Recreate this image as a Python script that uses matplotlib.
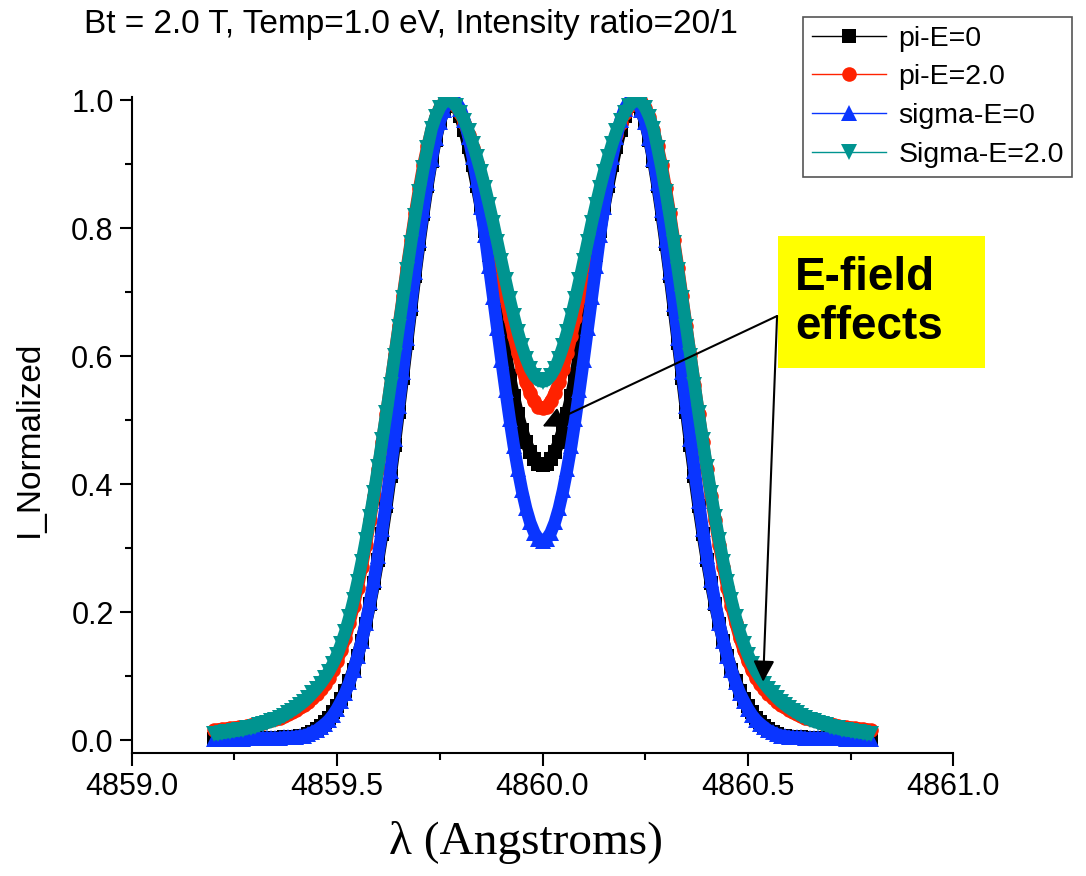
import numpy as np
import matplotlib
matplotlib.use("Agg")
import matplotlib.pyplot as plt
from matplotlib.lines import Line2D
from matplotlib.patches import Rectangle

# wavelength sampling of the spectra (Angstroms)
wl_start = 4859.20
wl_step = 0.01

pi_e0 = [
    0.002, 0.002, 0.002, 0.002, 0.002, 0.002, 0.002, 0.002, 0.003, 0.003,
    0.003, 0.003, 0.003, 0.003, 0.003, 0.003, 0.003, 0.004, 0.004, 0.004,
    0.005, 0.006, 0.007, 0.010, 0.013, 0.017, 0.022, 0.028, 0.035, 0.043,
    0.053, 0.064, 0.077, 0.092, 0.110, 0.131, 0.155, 0.182, 0.212, 0.245,
    0.282, 0.322, 0.365, 0.412, 0.461, 0.513, 0.566, 0.620, 0.673, 0.725,
    0.775, 0.822, 0.866, 0.905, 0.938, 0.965, 0.985, 0.997, 1.000, 0.991,
    0.975, 0.953, 0.927, 0.898, 0.866, 0.832, 0.796, 0.758, 0.719, 0.680,
    0.641, 0.604, 0.569, 0.537, 0.509, 0.485, 0.465, 0.450, 0.439, 0.432,
    0.430,
    0.432, 0.439, 0.450, 0.465, 0.485, 0.509, 0.537, 0.569, 0.604, 0.641,
    0.680, 0.719, 0.758, 0.796, 0.832, 0.866, 0.898, 0.927, 0.953, 0.975,
    0.991, 1.000, 0.997, 0.985, 0.965, 0.938, 0.905, 0.866, 0.822, 0.775,
    0.725, 0.673, 0.620, 0.566, 0.513, 0.461, 0.412, 0.365, 0.322, 0.282,
    0.245, 0.212, 0.182, 0.155, 0.131, 0.110, 0.092, 0.077, 0.064, 0.053,
    0.043, 0.035, 0.028, 0.022, 0.017, 0.013, 0.010, 0.007, 0.006, 0.005,
    0.004, 0.004, 0.004, 0.003, 0.003, 0.003, 0.003, 0.003, 0.003, 0.003,
    0.003, 0.003, 0.003, 0.002, 0.002, 0.002, 0.002, 0.002, 0.002, 0.002,
]

pi_e2 = [
    0.015, 0.016, 0.017, 0.017, 0.018, 0.019, 0.020, 0.021, 0.022, 0.023,
    0.025, 0.026, 0.027, 0.029, 0.031, 0.033, 0.035, 0.037, 0.040, 0.043,
    0.047, 0.051, 0.055, 0.060, 0.066, 0.072, 0.079, 0.087, 0.097, 0.109,
    0.123, 0.140, 0.160, 0.183, 0.209, 0.238, 0.270, 0.305, 0.343, 0.382,
    0.423, 0.466, 0.510, 0.555, 0.601, 0.647, 0.693, 0.738, 0.781, 0.823,
    0.862, 0.898, 0.928, 0.953, 0.973, 0.988, 0.997, 1.000, 0.998, 0.991,
    0.979, 0.964, 0.946, 0.925, 0.902, 0.876, 0.848, 0.818, 0.787, 0.755,
    0.723, 0.691, 0.660, 0.631, 0.604, 0.580, 0.559, 0.542, 0.529, 0.521,
    0.518,
    0.521, 0.529, 0.542, 0.559, 0.580, 0.604, 0.631, 0.660, 0.691, 0.723,
    0.755, 0.787, 0.818, 0.848, 0.876, 0.902, 0.925, 0.946, 0.964, 0.979,
    0.991, 0.998, 1.000, 0.997, 0.988, 0.973, 0.953, 0.928, 0.898, 0.862,
    0.823, 0.781, 0.738, 0.693, 0.647, 0.601, 0.555, 0.510, 0.466, 0.423,
    0.382, 0.343, 0.305, 0.270, 0.238, 0.209, 0.183, 0.160, 0.140, 0.123,
    0.109, 0.097, 0.087, 0.079, 0.072, 0.066, 0.060, 0.055, 0.051, 0.047,
    0.043, 0.040, 0.037, 0.035, 0.033, 0.031, 0.029, 0.027, 0.026, 0.025,
    0.023, 0.022, 0.021, 0.020, 0.019, 0.018, 0.017, 0.017, 0.016, 0.015,
]

sigma_e0 = [
    0.002, 0.002, 0.002, 0.002, 0.002, 0.002, 0.002, 0.002, 0.003, 0.003,
    0.003, 0.003, 0.003, 0.003, 0.003, 0.003, 0.003, 0.004, 0.004, 0.004,
    0.005, 0.006, 0.007, 0.009, 0.012, 0.015, 0.020, 0.025, 0.031, 0.039,
    0.049, 0.061, 0.074, 0.090, 0.109, 0.131, 0.155, 0.183, 0.215, 0.250,
    0.288, 0.329, 0.374, 0.421, 0.471, 0.522, 0.575, 0.628, 0.681, 0.732,
    0.782, 0.828, 0.871, 0.908, 0.940, 0.966, 0.985, 0.997, 1.000, 0.997,
    0.986, 0.968, 0.942, 0.911, 0.875, 0.833, 0.789, 0.741, 0.692, 0.643,
    0.594, 0.547, 0.502, 0.460, 0.423, 0.390, 0.362, 0.340, 0.324, 0.314,
    0.311,
    0.314, 0.324, 0.340, 0.362, 0.390, 0.423, 0.460, 0.502, 0.547, 0.594,
    0.643, 0.692, 0.741, 0.789, 0.833, 0.875, 0.911, 0.942, 0.968, 0.986,
    0.997, 1.000, 0.997, 0.985, 0.966, 0.940, 0.908, 0.871, 0.828, 0.782,
    0.732, 0.681, 0.628, 0.575, 0.522, 0.471, 0.421, 0.374, 0.329, 0.288,
    0.250, 0.215, 0.183, 0.155, 0.131, 0.109, 0.090, 0.074, 0.061, 0.049,
    0.039, 0.031, 0.025, 0.020, 0.015, 0.012, 0.009, 0.007, 0.006, 0.005,
    0.004, 0.004, 0.004, 0.003, 0.003, 0.003, 0.003, 0.003, 0.003, 0.003,
    0.003, 0.003, 0.003, 0.002, 0.002, 0.002, 0.002, 0.002, 0.002, 0.002,
]

sigma_e2 = [
    0.009, 0.010, 0.011, 0.012, 0.013, 0.014, 0.015, 0.016, 0.018, 0.019,
    0.021, 0.023, 0.025, 0.027, 0.029, 0.032, 0.035, 0.038, 0.042, 0.046,
    0.050, 0.055, 0.060, 0.066, 0.073, 0.080, 0.088, 0.097, 0.107, 0.119,
    0.133, 0.150, 0.169, 0.192, 0.218, 0.247, 0.278, 0.312, 0.348, 0.386,
    0.426, 0.468, 0.511, 0.555, 0.600, 0.645, 0.690, 0.734, 0.777, 0.818,
    0.857, 0.893, 0.925, 0.955, 0.974, 0.988, 0.997, 1.000, 0.997, 0.990,
    0.980, 0.967, 0.951, 0.932, 0.911, 0.888, 0.863, 0.836, 0.808, 0.778,
    0.748, 0.718, 0.689, 0.662, 0.637, 0.615, 0.596, 0.580, 0.569, 0.562,
    0.560,
    0.562, 0.569, 0.580, 0.596, 0.615, 0.637, 0.662, 0.689, 0.718, 0.748,
    0.778, 0.808, 0.836, 0.863, 0.888, 0.911, 0.932, 0.951, 0.967, 0.980,
    0.990, 0.997, 1.000, 0.997, 0.988, 0.974, 0.955, 0.925, 0.893, 0.857,
    0.818, 0.777, 0.734, 0.690, 0.645, 0.600, 0.555, 0.511, 0.468, 0.426,
    0.386, 0.348, 0.312, 0.278, 0.247, 0.218, 0.192, 0.169, 0.150, 0.133,
    0.119, 0.107, 0.097, 0.088, 0.080, 0.073, 0.066, 0.060, 0.055, 0.050,
    0.046, 0.042, 0.038, 0.035, 0.032, 0.029, 0.027, 0.025, 0.023, 0.021,
    0.019, 0.018, 0.016, 0.015, 0.014, 0.013, 0.012, 0.011, 0.010, 0.009,
]

series_labels = ['pi-E=0', 'pi-E=2.0', 'sigma-E=0', 'Sigma-E=2.0']
series_data = [pi_e0, pi_e2, sigma_e0, sigma_e2]

x_ticks = [4859.0, 4859.5, 4860.0, 4860.5, 4861.0]
y_ticks = [0.0, 0.2, 0.4, 0.6, 0.8, 1.0]

title_text = 'Bt = 2.0 T, Temp=1.0 eV, Intensity ratio=20/1'
note_text = 'E-field\neffects'
arrow_start = (4860.571, 0.6625)
arrow_tips = [(4860.0, 0.49), (4860.537, 0.091)]

colors = ['#000000', '#ff2200', '#0a35ff', '#009490']
markers = ['s', 'o', '^', 'v']
msizes = [9.5, 10.5, 11.5, 11.5]

plt.rcParams['font.family'] = ['Liberation Sans', 'DejaVu Sans']
fig = plt.figure(figsize=(10.86, 8.76), dpi=100)
ax = fig.add_axes([131.7 / 1086, 123.5 / 876, 821.6 / 1086, 655.7 / 876])
ax.spines['top'].set_visible(False)
ax.spines['right'].set_visible(False)
for s in ['left', 'bottom']:
    ax.spines[s].set_linewidth(1.5)

for i, ys in enumerate(series_data):
    xs = wl_start + wl_step * np.arange(len(ys))
    # wide band under the dense markers, like the original marker strip
    ax.plot(xs, ys, '-', color=colors[i], lw=9, solid_joinstyle='round',
            solid_capstyle='butt', zorder=2 + i)
    ax.plot(xs, ys, linestyle='none', marker=markers[i], ms=msizes[i],
            color=colors[i], mec=colors[i], mew=0, zorder=2 + i)

ax.set_xlim(4859.0, 4861.0)
ax.set_ylim(-0.0195, 1.005)
ax.set_xticks(x_ticks)
ax.set_xticklabels(['%.1f' % v for v in x_ticks])
ax.set_xticks(np.arange(4859.0, 4861.01, 0.25), minor=True)
ax.set_yticks(y_ticks)
ax.set_yticklabels(['%.1f' % v for v in y_ticks])
ax.set_yticks(np.arange(0.0, 1.01, 0.1), minor=True)
ax.tick_params(which='major', direction='out', length=9, width=1.5,
               labelsize=22)
ax.tick_params(axis='x', which='major', pad=5)
ax.tick_params(axis='y', which='major', pad=4)
ax.tick_params(which='minor', direction='out', length=5, width=1.5)

ax.set_ylabel('I_Normalized', fontsize=24)
ax.yaxis.set_label_coords(-0.106, 0.478)
ax.set_xlabel('\u03bb (Angstroms)', fontsize=34, family='Liberation Serif')
ax.xaxis.set_label_coords(0.48, -0.105)
ax.xaxis.label.set_va('top')

fig.text(84 / 1086, 1 - 24 / 876, title_text, fontsize=24, va='center', ha='left')

# yellow note box and the two arrows
ax.add_patch(Rectangle((4860.573, 0.581), 0.504, 0.2065, facecolor='#ffff00',
                       edgecolor='none', clip_on=False, zorder=8))
ax.text(4860.615, 0.684, note_text, fontsize=33, fontweight='bold',
        ha='left', va='center', linespacing=1.15, zorder=9, clip_on=False)
for tip in arrow_tips:
    ax.annotate('', xy=tip, xytext=arrow_start,
                arrowprops=dict(arrowstyle='-|>', color='black', lw=1.5,
                                mutation_scale=32, shrinkA=0, shrinkB=0),
                zorder=10)

handles = [Line2D([0], [0], color=colors[i], lw=1, marker=markers[i],
                  ms=msizes[i], mew=0) for i in range(4)]
leg = ax.legend(handles, series_labels, loc='upper left',
                bbox_to_anchor=(803 / 1086, 1 - 17 / 876),
                bbox_transform=fig.transFigure, fontsize=20.5, frameon=True,
                fancybox=False, edgecolor='#555555', framealpha=1,
                borderaxespad=0, borderpad=0.3, labelspacing=0.45,
                handlelength=2.6, handletextpad=0.45, numpoints=1)
leg.get_frame().set_linewidth(1.2)

fig.savefig('out.png', dpi=100)
